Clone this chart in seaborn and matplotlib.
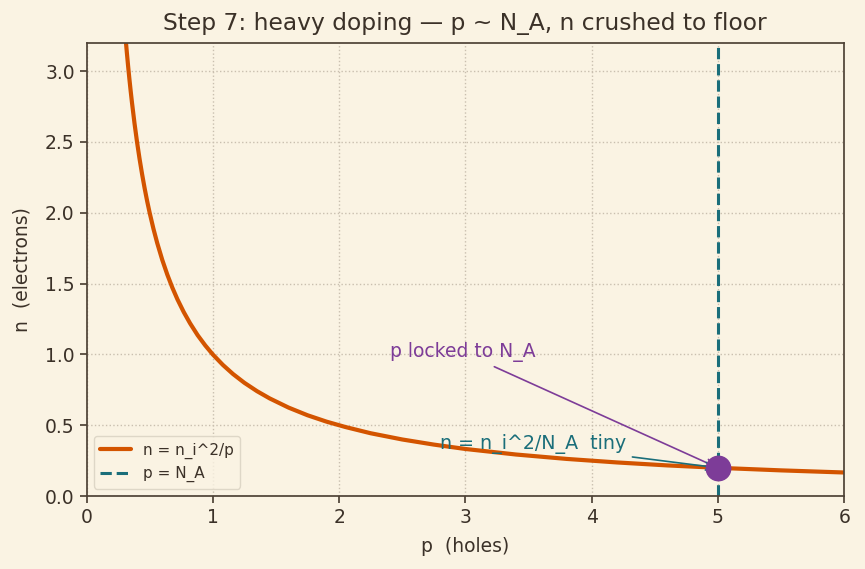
import pandas as pd
import matplotlib.pyplot as plt
import seaborn as sns

# Valores (n_i = 1, N_A = 5)
p_vals = [0.28, 0.29, 0.30, 0.31, 0.32, 0.33, 0.34, 0.35, 0.36, 0.38, 0.40, 0.42,
          0.44, 0.46, 0.48, 0.50, 0.53, 0.56, 0.60, 0.64, 0.68, 0.72, 0.77, 0.82,
          0.88, 0.94, 1.00, 1.08, 1.16, 1.25, 1.35, 1.45, 1.60, 1.75, 1.90, 2.05,
          2.25, 2.50, 2.75, 3.00, 3.40, 3.80, 4.20, 4.60, 5.00, 5.50, 6.00]
n_vals = [3.571, 3.448, 3.333, 3.226, 3.125, 3.030, 2.941, 2.857, 2.778, 2.632, 2.500, 2.381,
          2.273, 2.174, 2.083, 2.000, 1.887, 1.786, 1.667, 1.563, 1.471, 1.389, 1.299, 1.220,
          1.136, 1.064, 1.000, 0.926, 0.862, 0.800, 0.741, 0.690, 0.625, 0.571, 0.526, 0.488,
          0.444, 0.400, 0.364, 0.333, 0.294, 0.263, 0.238, 0.217, 0.200, 0.182, 0.167]
N_A = 5.0
n_floor = 0.2

bg = '#FAF3E3'
ink = '#3B3128'
sns.set_theme(style='ticks', rc={
    'axes.facecolor': bg, 'figure.facecolor': bg,
    'axes.edgecolor': '#4E4236', 'axes.labelcolor': ink,
    'xtick.color': '#4E4236', 'ytick.color': '#4E4236',
    'xtick.labelcolor': ink, 'ytick.labelcolor': ink,
    'text.color': ink,
})
plt.rcParams['font.family'] = ['DejaVu Sans']

df = pd.DataFrame({'p': p_vals, 'n': n_vals})

fig, ax = plt.subplots(figsize=(8.65, 5.69), dpi=100)
sns.lineplot(data=df, x='p', y='n', color='#D35400', linewidth=3, ax=ax, label='n = n_i^2/p')
ax.axvline(N_A, color='#1A6E7A', linestyle='--', linewidth=2.2, label='p = N_A')
ax.scatter([N_A], [n_floor], s=310, color='#7D3C98', zorder=5)

ax.annotate('p locked to N_A', xy=(N_A, n_floor), xytext=(2.4, 0.98),
            color='#7D3C98', fontsize=13.5,
            arrowprops=dict(arrowstyle='->', color='#7D3C98', lw=1.2))
ax.annotate('n = n_i^2/N_A  tiny', xy=(N_A, n_floor), xytext=(2.8, 0.33),
            color='#1A6E7A', fontsize=13.7,
            arrowprops=dict(arrowstyle='->', color='#1A6E7A', lw=1.2))

ax.set_xlim(0, 6)
ax.set_ylim(0, 3.2)
ax.grid(True, linestyle=':', color='#C9BFAF', linewidth=1)
ax.tick_params(labelsize=13.5, length=5)
ax.set_xlabel('p  (holes)', fontsize=13.5, labelpad=7)
ax.set_ylabel('n  (electrons)', fontsize=13.5, labelpad=10)
ax.set_title('Step 7: heavy doping — p ~ N_A, n crushed to floor', fontsize=16.8, color=ink, pad=9)
ax.legend(loc='lower left', fontsize=11, facecolor=bg, edgecolor='#D8D0C0')
for s in ax.spines.values():
    s.set_visible(True)

plt.subplots_adjust(left=0.1, right=0.976, top=0.925, bottom=0.128)
plt.savefig('out.png', dpi=100)
